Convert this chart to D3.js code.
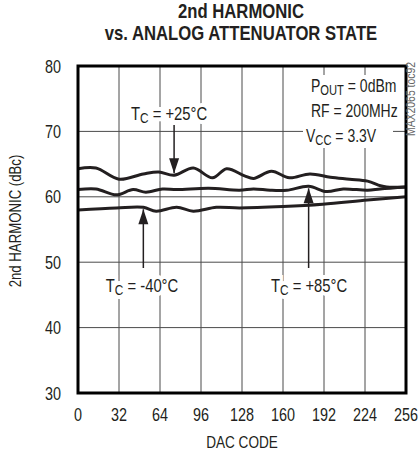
<!DOCTYPE html>
<html>
<head>
<meta charset="utf-8">
<script src="https://cdn.jsdelivr.net/npm/d3@7"></script>
<style>
  body { margin: 0; background: #fff; }
  svg { display: block; }
  text { font-family: "Liberation Sans", Arial, sans-serif; fill: #231f20; }
</style>
</head>
<body>
<div id="chart"></div>
<script>
// DAC code vs 2nd harmonic (dBc)
let codes25 = [0, 14, 32, 51, 63, 75, 90, 105, 116, 130, 137, 151, 165, 181, 197, 212, 226, 236, 241, 256]
let vals25  = [64.3, 64.4, 62.7, 63.5, 63.8, 63.3, 64.4, 62.9, 64.3, 63.2, 62.8, 63.9, 62.9, 63.5, 63.0, 62.7, 62.4, 61.7, 61.5, 61.5]

let codes85 = [0, 14, 30, 43, 53, 66, 77, 102, 126, 137, 150, 163, 180, 194, 207, 226, 236, 256]
let vals85  = [61.1, 61.2, 60.3, 61.1, 60.7, 61.2, 61.1, 61.3, 61.0, 61.2, 61.0, 61.0, 61.6, 60.8, 61.2, 61.0, 61.2, 61.5]

let codesM40 = [0, 30, 51, 61, 77, 90, 108, 126, 160, 191, 226, 256]
let valsM40  = [58.0, 58.3, 58.4, 57.8, 58.4, 57.8, 58.4, 58.3, 58.5, 58.85, 59.5, 60.0]

let xTicks = [0, 32, 64, 96, 128, 160, 192, 224, 256]
let yTicks = [30, 40, 50, 60, 70, 80]

let width = 420
let height = 456
let margin = {top: 66, right: 14, bottom: 63, left: 78}
let narrow = 0.8   // squeeze Liberation Sans to look like the condensed face

let svg = d3.select('#chart').append('svg')
    .attr('width', width)
    .attr('height', height)

let x = d3.scaleLinear().domain([0, 256]).range([margin.left, width - margin.right])
let y = d3.scaleLinear().domain([30, 80]).range([height - margin.bottom, margin.top])

// text placed in a squeezed group
let label = (px, py, size, anchor, rot) => {
    let g = svg.append('g')
        .attr('transform', 'translate(' + px + ',' + py + ')' + (rot ? ' rotate(' + rot + ')' : '') + ' scale(' + narrow + ',1)')
    return g.append('text')
        .attr('text-anchor', anchor)
        .attr('font-size', size)
}

let subText = (sel, main, sub, rest) => {
    sel.append('tspan').text(main)
    if (sub) {
        sel.append('tspan').attr('dy', 3).attr('font-size', '0.8em').text(sub)
        sel.append('tspan').attr('dy', -3).text(rest)
    }
}

// grid
svg.append('g')
    .selectAll('line')
    .data(xTicks.slice(1, -1))
    .enter()
    .append('line')
    .attr('x1', d => x(d)).attr('x2', d => x(d))
    .attr('y1', y(30)).attr('y2', y(80))
    .attr('stroke', '#4a4a4a')
    .attr('stroke-width', 1)

svg.append('g')
    .selectAll('line')
    .data(yTicks.slice(1, -1))
    .enter()
    .append('line')
    .attr('x1', x(0)).attr('x2', x(256))
    .attr('y1', d => y(d)).attr('y2', d => y(d))
    .attr('stroke', '#4a4a4a')
    .attr('stroke-width', 1)

// tick labels
xTicks.forEach(d => {
    label(x(d), 421, 18, 'middle').text(d)
})
yTicks.forEach(d => {
    label(61, y(d) + 6.5, 18, 'end').text(d)
})

// axis titles
label(x(128), 448, 17, 'middle').text('DAC CODE')
label(21, 221, 16.5, 'middle', -90).text('2nd HARMONIC (dBc)')

// title
label(241, 18, 19.5, 'middle').attr('font-weight', 'bold').text('2nd HARMONIC')
    .attr('transform', 'scale(1.07,1)')
label(241, 40, 19.5, 'middle').attr('font-weight', 'bold').text('vs. ANALOG ATTENUATOR STATE')
    .attr('transform', 'scale(1.07,1)')

// conditions box (white knocks out the grid)
svg.append('rect')
    .attr('x', 303).attr('y', 75)
    .attr('width', 90).attr('height', 73)
    .attr('fill', '#fff')

subText(label(311, 92, 17.5, 'start'), 'P', 'OUT', ' = 0dBm')
subText(label(311, 117, 17.5, 'start'), 'RF = 200MHz')
subText(label(306, 142, 17.5, 'start'), 'V', 'CC', ' = 3.3V')

// curves
let line = d3.line()
    .x(d => x(d[0]))
    .y(d => y(d[1]))
    .curve(d3.curveCatmullRom.alpha(0.5))

let series = [
    d3.zip(codes25, vals25),
    d3.zip(codes85, vals85),
    d3.zip(codesM40, valsM40)
]

svg.append('g')
    .selectAll('path')
    .data(series)
    .enter()
    .append('path')
    .attr('d', line)
    .attr('fill', 'none')
    .attr('stroke', '#231f20')
    .attr('stroke-width', 3)

// temperature labels + arrows
let temps = [
    {text: '+25°C', tx: 169, ty: 120, code: 75, val: 63.3, from: 125, dir: 1},
    {text: '-40°C', tx: 142, ty: 292, code: 51, val: 58.4, from: 268, dir: -1},
    {text: '+85°C', tx: 309, ty: 292, code: 180, val: 61.6, from: 268, dir: -1}
]

temps.forEach(d => {
    let t = label(d.tx, d.ty, 18.5, 'middle')
        .attr('paint-order', 'stroke')
        .attr('stroke', '#fff')
        .attr('stroke-width', 8)
    subText(t, 'T', 'C', ' = ' + d.text)

    let ax = x(d.code)
    let tip = y(d.val) - d.dir * 2
    svg.append('line')
        .attr('x1', ax).attr('x2', ax)
        .attr('y1', d.from).attr('y2', tip)
        .attr('stroke', '#231f20')
        .attr('stroke-width', 1.5)
    svg.append('path')
        .attr('d', 'M' + ax + ',' + tip + 'L' + (ax - 5) + ',' + (tip - d.dir * 15) + 'L' + (ax + 5) + ',' + (tip - d.dir * 15) + 'Z')
        .attr('fill', '#231f20')
})

// frame
svg.append('rect')
    .attr('x', x(0)).attr('y', y(80))
    .attr('width', x(256) - x(0))
    .attr('height', y(30) - y(80))
    .attr('fill', 'none')
    .attr('stroke', '#000')
    .attr('stroke-width', 3)

// part number tag
label(415, 99, 13, 'middle', -90)
    .style('fill', '#666')
    .text('MAX2065 toc92')
</script>
</body>
</html>
